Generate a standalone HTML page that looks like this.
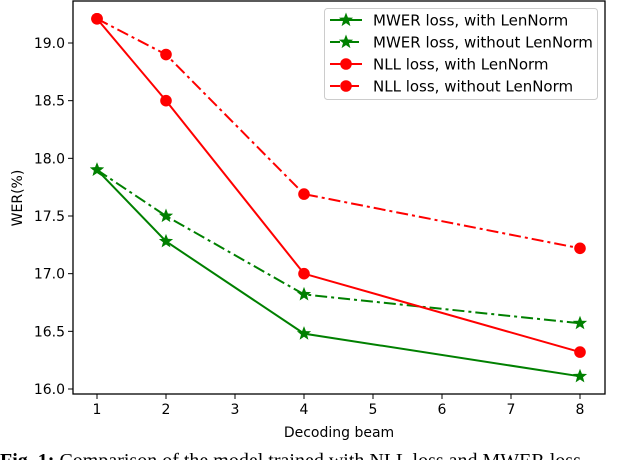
<!DOCTYPE html>
<html><head><meta charset="utf-8"><style>
html,body{margin:0;padding:0;background:#fff;width:640px;height:460px;overflow:hidden;position:relative}
svg text{font-family:"DejaVu Sans","Liberation Sans",sans-serif}
.cap{position:absolute;left:0;top:450px;font-family:"Liberation Serif",serif;font-size:20px;white-space:nowrap;color:#000}
</style></head><body>
<svg id="chart" width="640" height="460" style="position:absolute;left:0;top:0"></svg>
<div class="cap"><b>Fig. 1:</b> Comparison of the model trained with NLL loss and MWER loss</div>
<script>
const beams=[1,2,4,8];
const mwerWith=[17.9,17.28,16.48,16.11];
const mwerWithout=[17.9,17.5,16.82,16.57];
const nllWith=[19.21,18.5,17.0,16.32];
const nllWithout=[19.21,18.9,17.69,17.22];
const xTicks=[1,2,3,4,5,6,7,8];
const yTicks=[16.0,16.5,17.0,17.5,18.0,18.5,19.0];
const seriesNames=["MWER loss, with LenNorm","MWER loss, without LenNorm","NLL loss, with LenNorm","NLL loss, without LenNorm"];

const NS="http://www.w3.org/2000/svg";
const svg=document.getElementById('chart');
const L=73,R=605,T=1,B=394;
const xs=v=>97+(v-1)*(580-97)/7;
const ys=v=>389-(v-16)*(389-43)/3;
function el(tag,attrs,parent){const e=document.createElementNS(NS,tag);for(const k in attrs)e.setAttribute(k,attrs[k]);(parent||svg).appendChild(e);return e;}

const frame=el('rect',{x:L,y:T,width:R-L,height:B-T,fill:'none',stroke:'#000','stroke-width':1.3});



xTicks.forEach(t=>{
  const ln=el('line',{x1:xs(t),x2:xs(t),y1:B,y2:B+5,stroke:'#000'});
  
  
  const tx=el('text',{x:xs(t),y:B+20,'text-anchor':'middle','font-size':14});
  tx.textContent=t;
  
  
});
yTicks.forEach(t=>{
  const ln=el('line',{x1:L-5,x2:L,y1:ys(t),y2:ys(t),stroke:'#000'});
  
  
  const tx=el('text',{x:L-8,y:ys(t)+5,'text-anchor':'end','font-size':14});
  tx.textContent=t.toFixed(1);
  
  
});
const xt=el('text',{x:339,y:437,'text-anchor':'middle','font-size':14});
xt.textContent='Decoding beam';


const yt=el('text',{x:0,y:0,'text-anchor':'middle','font-size':14,transform:'translate(22,198) rotate(-90)'});
yt.textContent='WER(%)';



function star(cx,cy,r,color,parent){
  let p=[];for(let i=0;i<10;i++){const a=-Math.PI/2+i*Math.PI/5;const rr=i%2?r*0.42:r;p.push((cx+rr*Math.cos(a)).toFixed(1)+','+(cy+rr*Math.sin(a)).toFixed(1));}
  return el('polygon',{points:p.join(' '),fill:color},parent);
}
function marker(type,cx,cy,color,parent){
  return type==='star'?star(cx,cy,7.5,color,parent):el('circle',{cx:cx,cy:cy,r:5.8,fill:color},parent);
}
const series=[
  {vals:mwerWith,color:'#008000',dash:null,m:'star',name:'mwer-with-lennorm'},
  {vals:mwerWithout,color:'#008000',dash:'12,4,3,4',m:'star',name:'mwer-without-lennorm'},
  {vals:nllWith,color:'#ff0000',dash:null,m:'circle',name:'nll-with-lennorm'},
  {vals:nllWithout,color:'#ff0000',dash:'12,4,3,4',m:'circle',name:'nll-without-lennorm'}
];
series.forEach(s=>{
  const g=el('g',{});
  
  
  const a={points:beams.map((b,i)=>xs(b)+','+ys(s.vals[i])).join(' '),fill:'none',stroke:s.color,'stroke-width':2};
  if(s.dash)a['stroke-dasharray']=s.dash;
  const pl=el('polyline',a,g);
  
  
  beams.forEach((b,i)=>{
    const m=marker(s.m,xs(b),ys(s.vals[i]),s.color,g);
    
    
  });
});

const lg=el('g',{});


el('rect',{x:324.5,y:8.5,width:273,height:91,rx:3,fill:'#fff','fill-opacity':0.8,stroke:'#ccc'},lg);
series.forEach((s,i)=>{
  const y=20+i*22;
  const e=el('g',{},lg);
  
  
  const a={x1:330,x2:362,y1:y,y2:y,stroke:s.color,'stroke-width':2};
  if(s.dash)a['stroke-dasharray']='10,3,3,3';
  el('line',a,e);
  marker(s.m,346,y,s.color,e);
  const t=el('text',{x:373,y:y+5.5,'font-size':15},e);
  t.textContent=seriesNames[i];
});
</script>
</body></html>
